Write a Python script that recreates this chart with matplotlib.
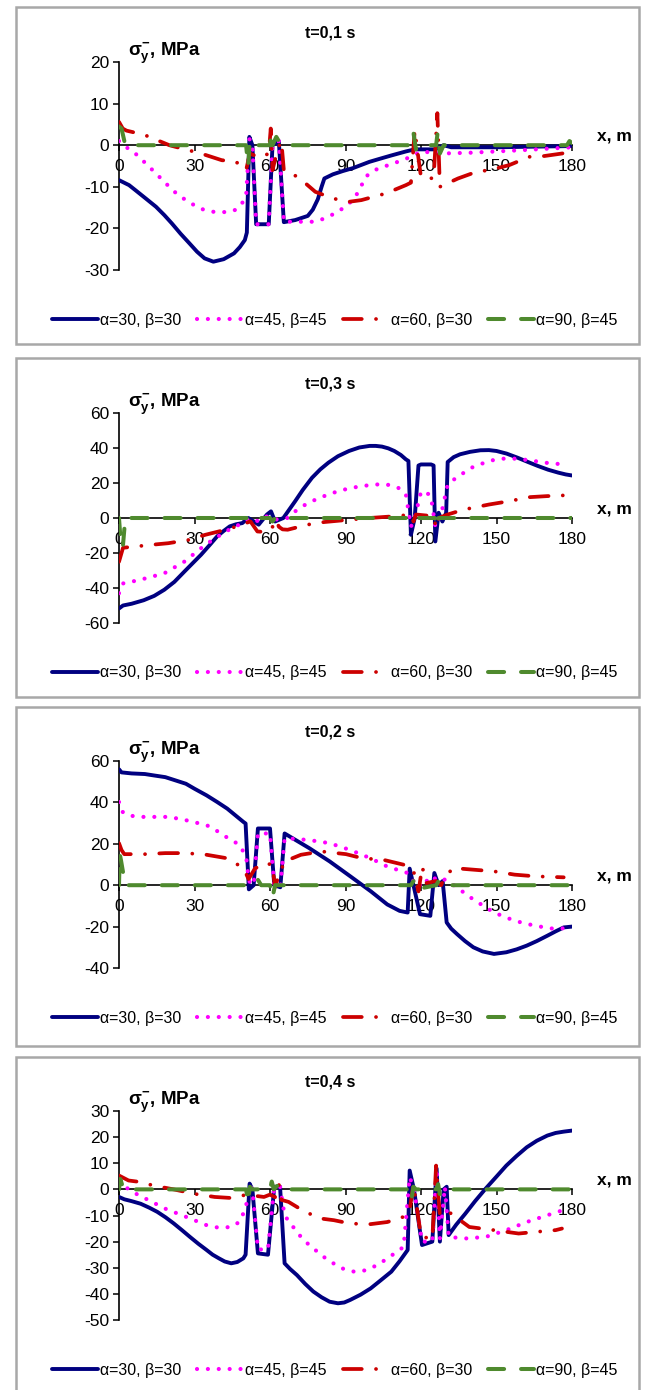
import matplotlib
matplotlib.use("Agg")
import matplotlib.pyplot as plt
from matplotlib.patches import Rectangle

plt.rcParams['font.family'] = ['Liberation Sans', 'DejaVu Sans']
plt.rcParams['axes.unicode_minus'] = False
plt.rcParams['mathtext.fontset'] = 'custom'
plt.rcParams['mathtext.rm'] = 'Liberation Sans:bold'
plt.rcParams['mathtext.it'] = 'Liberation Sans:bold'
plt.rcParams['mathtext.bf'] = 'Liberation Sans:bold'

# ---------------- data ----------------
series_labels = ['α=30, β=30', 'α=45, β=45', 'α=60, β=30', 'α=90, β=45']
panel_titles = ['t=0,1 s', 't=0,3 s', 't=0,2 s', 't=0,4 s']
panel_ylims = [(-30, 20), (-60, 60), (-40, 60), (-50, 30)]
panel_yticks = [[-30, -20, -10, 0, 10, 20],
                [-60, -40, -20, 0, 20, 40, 60],
                [-40, -20, 0, 20, 40, 60],
                [-50, -40, -30, -20, -10, 0, 10, 20, 30]]
x_ticks = [0, 30, 60, 90, 120, 150, 180]

# t=0,1 s
p1_blue_x = [0, 2, 4, 6.5, 10, 14.7, 18, 21, 24.5, 28, 31, 34, 37.5, 41.6, 45.7, 48, 50, 50.8, 51.8, 53, 54.5, 59.5, 61, 63.5, 65.5, 70, 75, 77, 79, 80.5, 81.6, 85, 89, 93, 99.5, 104, 108, 114, 117.5, 122, 125.7, 129, 132, 150, 170, 180]
p1_blue_y = [-8.4, -9, -9.6, -10.8, -12.5, -14.8, -16.8, -18.8, -21.3, -23.6, -25.6, -27.2, -28, -27.4, -26, -24.5, -22.8, -21, 2, 0, -19, -19, 0, 1, -18.5, -18, -17, -15.5, -13, -10, -8, -7, -6.2, -5.5, -4, -3.2, -2.5, -1.5, -1, -1, -1, 0, -0.5, -0.5, -0.3, -0.2]
p1_pink_x = [0, 2, 4, 6.5, 10.5, 14.7, 18.8, 22.8, 27, 31, 34, 37.5, 41, 44, 46, 48, 50.5, 51.8, 53, 54.5, 59.5, 61, 63.5, 65.5, 70, 76.7, 80, 83, 86.5, 89.8, 92.5, 94.7, 96.5, 98, 100.5, 103, 109, 116, 120, 128, 140, 160, 180]
p1_pink_y = [1, 0, -1, -2, -4.3, -6.8, -9.3, -11.6, -13.4, -14.8, -15.6, -16, -16.1, -16, -15.6, -14.8, -12.4, 1.5, 0, -19, -19, 0, 1, -18.4, -18.4, -18.4, -18, -17.2, -16.2, -14.8, -13.4, -11.6, -9.5, -7.6, -6.4, -5.6, -4.4, -2.8, -1.5, -2, -1.8, -1.2, -0.5]
p1_red_x = [0, 1.5, 3, 10, 20, 32.6, 40.8, 46.5, 50.5, 52, 56, 59.5, 60.3, 61, 63, 64.5, 65.5, 67, 73.4, 78, 85, 91.4, 96.3, 106, 114, 116, 117.5, 120, 125, 126.5, 127.5, 134.7, 142, 147, 155, 163, 169, 176, 180]
p1_red_y = [5.6, 4, 3.5, 2.5, 0, -2, -3.6, -4, -6, -2, -3, -2, 4, -6, -1, 1, -6, -6, -8.8, -11.2, -12.8, -13.6, -13.2, -11.6, -9.6, -9, 3.6, -7.7, -8, 7.7, -10, -8, -6.4, -6, -4.8, -2.8, -2.6, -2, -1.5]
p1_green_x = [0, 1, 2.5, 50.5, 51.3, 52, 53, 60, 60.4, 61, 62.5, 63.5, 65, 116, 117, 118, 119, 126, 126.6, 127.5, 129, 178, 179, 180]
p1_green_y = [4.5, 4, 0, 0, -5, 1, 0, 0, 3, 0, 2, 1, 0, 0, 3, -1, 0, 0, 3, -2, 0, 0, 1, 0.5]

# t=0,3 s
p2_blue_x = [0, 1.6, 5, 9.8, 14, 18, 22, 26, 29.5, 32.6, 36, 39, 41.5, 44, 46.5, 49, 51.4, 55.5, 58.8, 60.4, 62, 65.3, 67.5, 70, 73, 76.7, 80, 83.2, 87, 91.4, 95.5, 99.6, 102, 104.5, 107, 109.4, 112, 114, 115, 116, 117.5, 119, 120, 124, 125, 125.7, 127, 128.5, 130, 130.6, 133, 135.5, 139.5, 143.6, 147, 150, 154, 158.3, 162.5, 166.5, 170.5, 174.6, 177.5, 180]
p2_blue_y = [-51.7, -50, -49, -47, -44.5, -41, -36.5, -30.6, -25.5, -21, -15.5, -10.5, -7.5, -4.8, -3.6, -2.9, 0, -3.8, 2, 3.8, -2, 0, 4.5, 9.6, 16, 23, 27.8, 31.6, 35.3, 38.3, 40.3, 41.2, 41.2, 40.8, 39.8, 38.3, 36, 33.5, 32.6, -9.6, 0, 30, 30.6, 30.6, 30, -13.4, 3, -2, 3, 32, 34.8, 36.4, 37.8, 38.7, 38.8, 38.3, 36.8, 34.5, 32, 29.7, 27.6, 25.9, 24.9, 24.3]
p2_pink_x = [0, 1.6, 8.2, 18, 26, 34.3, 42.4, 49, 52.2, 55.5, 58.8, 62, 65.3, 67, 70, 73, 76.7, 80, 83.2, 87, 91.4, 95.5, 99.6, 103, 106, 108.5, 111, 114, 116, 117.5, 120, 122, 124, 125.7, 128, 130.6, 134, 140, 147, 151.8, 158.3, 164.8, 171.4, 178]
p2_pink_y = [-43, -37.4, -35.4, -31.6, -24.9, -15.3, -7.7, -2.9, 0, -2, 1, -1, 0, 0, 3.8, 6.8, 9.6, 11.7, 13.4, 15.3, 16.9, 18, 18.8, 19.2, 19.2, 18.5, 17.2, 13.4, -5, 0, 15, 15, 12, -5, 2, 19.2, 23, 28.7, 32.6, 33.9, 33.9, 32.6, 31.2, 30.6]
p2_red_x = [0, 1, 1.6, 6.5, 13, 19.6, 27.7, 34.3, 42.4, 49, 52.2, 55, 58, 60.4, 62.5, 63.5, 65, 67, 75, 81.6, 91.4, 99.6, 109.4, 116, 117, 118, 125, 126, 127, 130.6, 137, 147, 155, 163, 170, 178]
p2_red_y = [-25, -20, -17, -16.3, -15.3, -14.4, -12.5, -9.6, -6.7, -3.8, -1.9, -7.7, -8, -6.7, -1, -5, -6.5, -6.7, -3.8, -2.3, -1, 0, 1, 1.9, -2, 2, 1, -5.7, 0, 2, 4.8, 7.7, 9.6, 11.9, 12.5, 13]
p2_green_x = [0, 0.5, 1.5, 2.5, 51, 52, 53, 60, 61, 62, 116, 117, 118, 125.5, 126.2, 127, 180]
p2_green_y = [0, -10, -17, 0, 0, 1.5, 0, 0, -2, 0, 0, 2, 0, 0, -5, 0, 0]

# t=0,2 s
p3_blue_x = [0, 1, 5, 10.3, 14, 18.4, 22, 26.6, 30, 34.8, 39, 43, 46, 49.4, 50.3, 51.6, 53.5, 55.2, 60, 61.7, 64.1, 65.8, 75.6, 83.7, 91.9, 100, 106.6, 111.5, 114.7, 115.5, 117, 119.6, 123.7, 125.3, 127, 128.6, 130.2, 132, 134.3, 137.5, 140.8, 144.5, 149, 153.9, 158, 162, 166, 170.2, 173.5, 176.7, 180]
p3_blue_y = [56, 54.5, 54, 53.7, 53, 52.2, 50.8, 49, 46.6, 43.4, 40.2, 37, 34, 30.6, 29.8, -2, 0, 27.4, 27.4, 0, -1, 25, 17.9, 11.5, 4.3, -2.9, -9.3, -12.4, -13.2, 8, 0, -14, -14.8, 5.9, 0, 2, -18, -21, -23.6, -27, -30, -32, -33.2, -32.4, -31, -29.2, -27, -24.4, -22.3, -20.4, -20]
p3_pink_x = [0, 1, 2.1, 5, 8.6, 18.4, 22, 26.6, 30, 34.8, 38, 41.3, 44.5, 47.8, 50.5, 51.6, 53.5, 55.2, 60, 61.7, 64.1, 65.8, 67.4, 75.6, 83.7, 91.9, 100, 106.6, 114.7, 117, 119, 121, 124, 126, 129.4, 132.7, 140.8, 149, 157.2, 165.3, 173.5, 180]
p3_pink_y = [40.2, 36, 34.6, 33.5, 33, 33, 32.5, 31.4, 30.4, 29, 27, 24.2, 22, 19.5, 14, 2, 0, 25, 25, 0, -1, 22.6, 22.6, 21.8, 20.3, 17, 13, 9, 5.9, 2, -1, 3, 1, 4, 2.7, 0.3, -6.9, -13.2, -17.2, -19.6, -21.2, -20.4]
p3_red_x = [0, 1, 2.1, 10.3, 18.4, 26.6, 34.8, 43, 49.4, 51.5, 54, 57.6, 60.9, 62, 63, 65.8, 72.3, 80.5, 90.2, 96.8, 104.9, 113.1, 115, 117, 119, 120.5, 122, 126, 128, 129, 132.7, 140.8, 149, 157.2, 165.3, 176.7]
p3_red_y = [20.3, 17, 15, 15, 15.5, 15.5, 14.7, 13, 8.3, 3, 8, 10.7, 9.9, -1, 3, 11.5, 14.7, 16.3, 15, 13, 12.3, 9.9, 9, 7, -3, 9, 1, 2, 0, 3, 8.3, 7.5, 6.7, 5.1, 4.3, 3.8]
p3_green_x = [0, 0.3, 0.8, 1.5, 2.5, 50, 51.5, 53, 55, 56.5, 60, 61, 62, 116, 117, 118, 126, 127, 128, 180]
p3_green_y = [0, 15, 12, 7, 0, 0, 2, 3, 3, 0, 0, -6, 0, 0, 2, -2, 0, 2, 0, 0]

# t=0,4 s
p4_blue_x = [0, 2.1, 5, 8.6, 12, 15.2, 18.5, 21.7, 25, 28.2, 31.5, 34.8, 37.2, 39.7, 42, 44.6, 47, 49.4, 50.3, 51.9, 53, 55.2, 59.2, 61.7, 64, 65.8, 68, 70.7, 74, 77.2, 80.5, 83.7, 87, 89.5, 91.9, 96, 100, 104, 108.2, 111.5, 114.7, 115.5, 117.2, 120.4, 124.5, 126.2, 127.5, 129, 130.2, 131, 134, 137.6, 141.5, 145.7, 150, 153.9, 158, 162, 166, 170.2, 173.5, 176.7, 180]
p4_blue_y = [-2.9, -3.8, -4.5, -5.5, -7, -8.6, -10.7, -13, -15.6, -18.2, -20.8, -23.2, -25, -26.4, -27.6, -28.3, -27.8, -26.4, -25, 2.2, 0, -24.5, -25, 1, 1, -28.3, -30.5, -32.8, -36.2, -39.1, -41.3, -43, -43.6, -43.3, -42.3, -40.3, -37.9, -34.8, -31.5, -27.5, -23.2, 7.2, 0, -21.3, -20, 8, -20, 0, 1, -17.5, -13.5, -9.3, -4.5, 0.3, 4.9, 9.1, 12.8, 16.1, 18.6, 20.6, 21.6, 22.1, 22.5]
p4_pink_x = [0, 1, 5.4, 11.9, 18.4, 26.6, 34.8, 39.7, 44.6, 47.8, 50.3, 51.9, 53, 55.2, 59.2, 61.7, 64, 65.8, 70.7, 73, 75.6, 79, 82.1, 85.5, 88.6, 91, 93.5, 97, 100, 103.5, 106.6, 110, 113.1, 115.5, 117.2, 120.4, 124.5, 126.2, 127.5, 129.5, 131, 137.6, 145.7, 153.9, 162, 170.2, 178.2]
p4_pink_y = [3, 2, -1, -4.2, -7.4, -10.5, -13.7, -14.7, -14.4, -12.5, -7.4, 1.5, 0, -23, -23, 1, 1, -10, -16.3, -19, -21.3, -24, -26.4, -28.5, -30.2, -31, -31.5, -31.2, -30.2, -28.5, -26.4, -24.2, -22, 4.7, 0, -20, -20, 8, -19, 1, -18.2, -18.8, -18.2, -15.6, -12.5, -9.9, -7.4]
p4_red_x = [0, 3.8, 8.6, 13.5, 21.7, 29.9, 38, 44.6, 49.4, 52.7, 57.6, 60, 62, 63.5, 64.5, 67.4, 73.9, 80.5, 85.4, 91.9, 100, 106.6, 113.1, 115.5, 117, 120, 124.5, 126, 127.5, 131, 139.2, 149, 158.8, 165.3, 173.5, 176]
p4_red_y = [5.3, 3.4, 2.8, 1.5, 0, -1.7, -2.9, -3.3, -2.3, -2.3, -2.9, -2, -3, 2, -4, -4.8, -8.6, -11.2, -11.8, -13.1, -13.3, -12.5, -10.5, -8, 2, -18, -19, 9.1, -10, -8.6, -14.4, -15.6, -16.9, -16.3, -15.6, -15]
p4_green_x = [0, 0.5, 1.5, 2.5, 50.5, 51.3, 52, 53, 60, 60.7, 61.5, 63, 64, 115.5, 116.2, 117, 118, 126, 126.8, 127.5, 129, 180]
p4_green_y = [0, 4, 1, 0, 0, -5, 1, 0, 0, 3, 0, 1.5, 0, 0, -4, 1, 0, 0, 2, -2, 0, 0]

panels = [
    [(p1_blue_x, p1_blue_y), (p1_pink_x, p1_pink_y), (p1_red_x, p1_red_y), (p1_green_x, p1_green_y)],
    [(p2_blue_x, p2_blue_y), (p2_pink_x, p2_pink_y), (p2_red_x, p2_red_y), (p2_green_x, p2_green_y)],
    [(p3_blue_x, p3_blue_y), (p3_pink_x, p3_pink_y), (p3_red_x, p3_red_y), (p3_green_x, p3_green_y)],
    [(p4_blue_x, p4_blue_y), (p4_pink_x, p4_pink_y), (p4_red_x, p4_red_y), (p4_green_x, p4_green_y)],
]

# ---------------- styles ----------------
styles = [
    dict(color='#000080', lw=2.8, linestyle='-', solid_capstyle='round', solid_joinstyle='round'),
    dict(color='#FF00FF', lw=3.0, dashes=(0.01, 2.6), dash_capstyle='round'),
    dict(color='#CC0000', lw=2.7, dashes=(5.0, 3.8, 0.01, 3.8), dash_capstyle='round'),
    dict(color='#4F8A2E', lw=2.9, dashes=(4.0, 4.2), dash_capstyle='round'),
]

W, H = 646, 1390
fig = plt.figure(figsize=(W / 100, H / 100), dpi=100)

# axes pixel boxes: (top, bottom)
axes_px = [(62, 270), (413, 623), (761, 968), (1111, 1320)]
boxes_px = [(7, 344), (358, 697), (707, 1046), (1057, 1396)]
ax_left, ax_right = 119, 572

for i in range(4):
    bt, bb = boxes_px[i]
    fig.patches.append(Rectangle((16 / W, 1 - bb / H), (639 - 16) / W, (bb - bt) / H,
                                 transform=fig.transFigure, fill=False,
                                 edgecolor='#a8a8a8', lw=1.8, zorder=0))
    top, bot = axes_px[i]
    ax = fig.add_axes([ax_left / W, 1 - bot / H, (ax_right - ax_left) / W, (bot - top) / H])
    ax.patch.set_alpha(0)
    handles = []
    for (xs, ys), st, lab in zip(panels[i], styles, series_labels):
        ln, = ax.plot(xs, ys, label=lab, zorder=3, **st)
        handles.append(ln)
    ax.set_xlim(0, 180)
    ax.set_ylim(*panel_ylims[i])
    ax.set_xticks(x_ticks)
    ax.set_yticks(panel_yticks[i])
    ax.set_yticklabels([str(v) for v in panel_yticks[i]])
    ax.spines['top'].set_visible(False)
    ax.spines['right'].set_visible(False)
    ax.spines['bottom'].set_position(('data', 0))
    ax.spines['left'].set_linewidth(1.2)
    ax.spines['bottom'].set_linewidth(1.2)
    ax.tick_params(axis='x', direction='out', length=4, width=1.1, pad=6, labelsize=12.5)
    ax.tick_params(axis='y', direction='out', length=4, width=1.1, pad=3, labelsize=12.5)
    ph = bot - top
    ax.text(0.466, 1 + 29 / ph, panel_titles[i], transform=ax.transAxes,
            ha='center', va='center', fontsize=11.5, fontweight='bold')
    ax.text(0.02, 1 + 9 / ph, r'$\sigma_y^{-}$' + ', MPa', transform=ax.transAxes,
            ha='left', va='center', fontsize=13.5, fontweight='bold')
    ax.annotate('x, m', xy=(180, 0), xycoords='data', xytext=(42, 9),
                textcoords='offset pixels', ha='center', va='center',
                fontsize=12.5, fontweight='bold')
    ax.legend(handles=handles, loc='center', bbox_to_anchor=(0.476, -50 / ph),
              ncol=4, frameon=False, fontsize=11.5, handlelength=2.9,
              handletextpad=0.1, columnspacing=1.0, borderpad=0, borderaxespad=0)

fig.savefig('out.png', dpi=100)
